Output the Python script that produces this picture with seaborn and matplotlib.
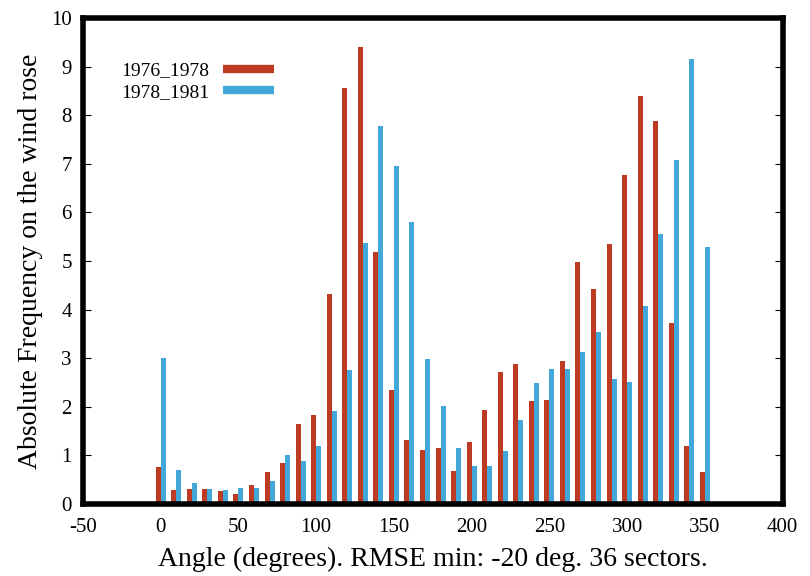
import matplotlib
matplotlib.use("Agg")
import matplotlib.pyplot as plt
from matplotlib.lines import Line2D
import numpy as np
import pandas as pd
import seaborn as sns

# Wind-rose sector centres (degrees), 36 sectors
angles = list(range(0, 360, 10))

freq_1976_1978 = [0.76, 0.28, 0.30, 0.30, 0.27, 0.20, 0.39, 0.65, 0.85, 1.64,
                  1.83, 4.33, 8.55, 9.41, 5.19, 2.35, 1.32, 1.12, 1.16, 0.68,
                  1.27, 1.94, 2.71, 2.88, 2.12, 2.14, 2.95, 4.99, 4.42, 5.34,
                  6.76, 8.39, 7.89, 3.72, 1.19, 0.65]

freq_1978_1981 = [3.00, 0.69, 0.43, 0.30, 0.28, 0.32, 0.32, 0.47, 1.01, 0.88,
                  1.20, 1.92, 2.76, 5.38, 7.77, 6.96, 5.81, 2.99, 2.02, 1.15,
                  0.79, 0.79, 1.09, 1.72, 2.49, 2.77, 2.78, 3.12, 3.53, 2.57,
                  2.51, 4.07, 5.56, 7.07, 9.16, 5.28]

series_names = ["1976_1978", "1978_1981"]
series_colors = ["#bd3a23", "#42a8d9"]

x_ticks = [-50, 0, 50, 100, 150, 200, 250, 300, 350, 400]
y_ticks = list(range(0, 11))

df = pd.DataFrame({
    "angle": angles * 2,
    "freq": freq_1976_1978 + freq_1978_1981,
    "period": [series_names[0]] * len(angles) + [series_names[1]] * len(angles),
})

sns.set_theme(style="white")
plt.rcParams["font.family"] = ["Liberation Serif", "DejaVu Serif"]
plt.rcParams["text.color"] = "black"
plt.rcParams["axes.labelcolor"] = "black"

fig = plt.figure(figsize=(8.1, 5.76), dpi=100)
ax = fig.add_axes([0.1025, 0.125, 0.8636, 0.8437])

sns.barplot(data=df, x="angle", y="freq", hue="period",
            hue_order=series_names, palette=series_colors,
            native_scale=True, dodge=True, width=0.64, saturation=1,
            linewidth=0, errorbar=None, legend=False, ax=ax)

ax.set_xlim(-50, 400)
ax.set_ylim(0, 10)
ax.set_xticks(x_ticks)
ax.set_xticklabels([str(t) for t in x_ticks])
ax.set_yticks(y_ticks)
ax.set_yticklabels([str(t) for t in y_ticks])

for side in ax.spines.values():
    side.set_visible(True)
    side.set_color("black")
    side.set_linewidth(4.0)

ax.tick_params(axis="both", which="major", direction="in", labelsize=15,
               colors="black", length=6, width=0.8)
ax.tick_params(axis="y", right=True, left=True, pad=8)
ax.tick_params(axis="x", bottom=False, top=False, pad=10)

ax.set_xlabel("Angle (degrees). RMSE min: -20 deg. 36 sectors.",
              fontsize=20, labelpad=7)
ax.set_ylabel("Absolute Frequency on the wind rose", fontsize=20, labelpad=6)

handles = [Line2D([0], [0], color=c, lw=6, solid_capstyle="butt")
           for c in series_colors]
ax.legend(handles, series_names, loc="upper left", bbox_to_anchor=(0.055, 0.91),
          frameon=False, markerfirst=False, fontsize=14, handlelength=2.6,
          handletextpad=0.7, labelspacing=0.2, borderaxespad=0,
          borderpad=0)

fig.savefig("out.png", dpi=100)
